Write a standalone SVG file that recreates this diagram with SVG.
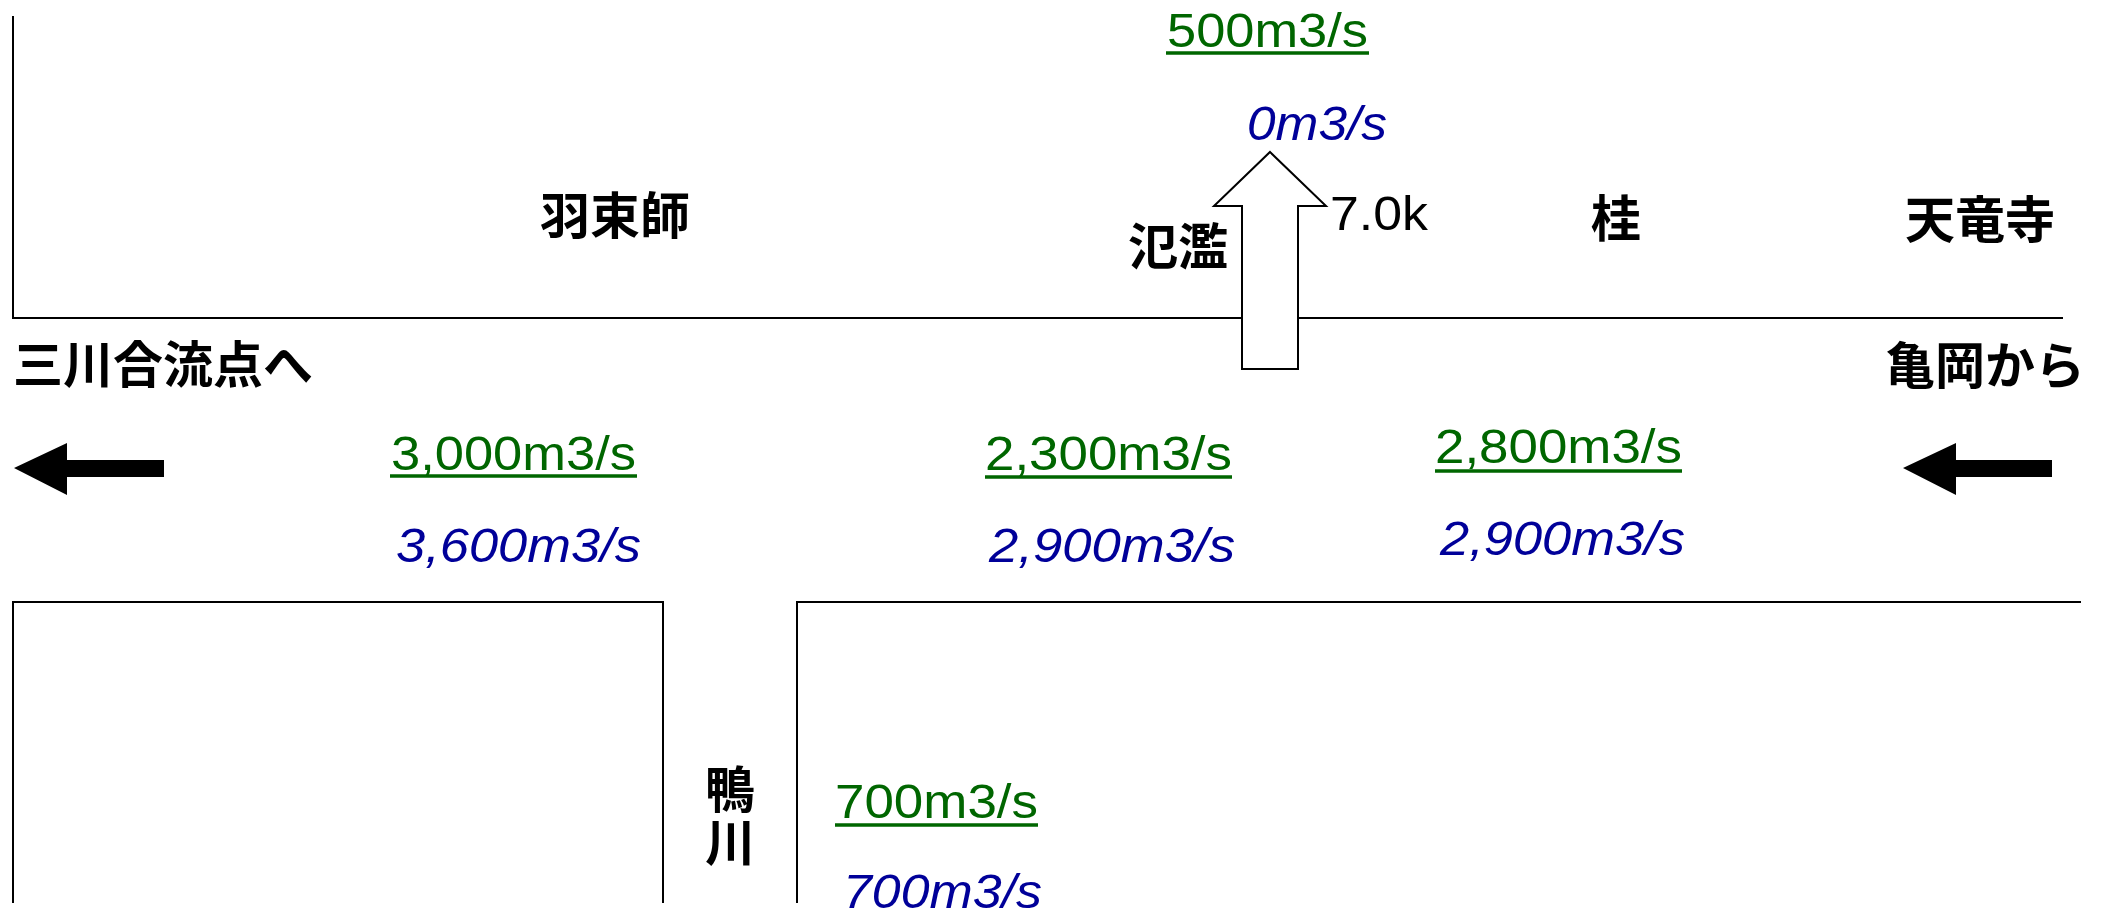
<svg xmlns="http://www.w3.org/2000/svg" width="2102" height="914" viewBox="0 0 2102 914">
<style>
.ln{fill:none;stroke:#000;stroke-width:2}
.jp{font-family:"Noto Sans CJK JP","Noto Sans CJK SC",sans-serif;font-weight:bold;fill:#000;font-size:50px}
.g{font-family:"Liberation Sans",Arial,sans-serif;font-size:49px;fill:#006600}
.ul{stroke:#006600;stroke-width:3.5}
.b{font-family:"Liberation Sans",Arial,sans-serif;font-size:49px;fill:#000099;font-style:italic}
.k{font-family:"Liberation Sans",Arial,sans-serif;font-size:49px;fill:#000}
</style>
<rect width="2102" height="914" fill="#fff"/>
<g id="banks">
<path class="ln" d="M13,16 V318 H2063"/>
<path class="ln" d="M13,903 V602 H663 V903"/>
<path class="ln" d="M797,903 V602 H2081"/>
</g>
<g id="connectors">
<path id="overflow-arrow" d="M1270,152 L1326,206 H1298 V369 H1242 V206 H1214 Z" fill="#fff" stroke="#000" stroke-width="2"/>
<path id="left-arrow" d="M14,468 L67,443 V460 H164 V477 H67 V495 Z" fill="#000"/>
<path id="right-arrow" d="M1903,468 L1956,443 V460 H2052 V477 H1956 V495 Z" fill="#000"/>
</g>
<g id="overflow">
<text class="g" x="1167" y="47" textLength="201" lengthAdjust="spacingAndGlyphs">500m3/s</text>
<line class="ul" x1="1166" y1="53" x2="1369" y2="53"/>
<text class="b" x="1247" y="140" textLength="140" lengthAdjust="spacingAndGlyphs">0m3/s</text>
<text class="k" x="1330" y="230" textLength="98" lengthAdjust="spacingAndGlyphs">7.0k</text>
<text class="jp" x="1128" y="265" font-size="51">氾濫</text>
</g>
<g id="places">
<text class="jp" x="540" y="234" font-size="51">羽束師</text>
<text class="jp" x="1591" y="237" font-size="48">桂</text>
<text class="jp" x="1905" y="238" font-size="51">天竜寺</text>
<text class="jp" x="13" y="383" font-size="52">三川合流点へ</text>
<text class="jp" x="1885" y="384" font-size="48">亀岡から</text>
</g>
<g id="kamo">
<text class="jp" font-size="48" x="730" y="764" writing-mode="vertical-rl" letter-spacing="3">鴨川</text>
<text class="g" x="835" y="818" textLength="203" lengthAdjust="spacingAndGlyphs">700m3/s</text>
<line class="ul" x1="835" y1="825" x2="1038" y2="825"/>
<text class="b" x="843" y="908" textLength="199" lengthAdjust="spacingAndGlyphs">700m3/s</text>
</g>
<g id="flows">
<text class="g" x="391" y="470" textLength="245" lengthAdjust="spacingAndGlyphs">3,000m3/s</text>
<line class="ul" x1="390" y1="476" x2="637" y2="476"/>
<text class="b" x="396" y="562" textLength="245" lengthAdjust="spacingAndGlyphs">3,600m3/s</text>
<text class="g" x="985" y="470" textLength="247" lengthAdjust="spacingAndGlyphs">2,300m3/s</text>
<line class="ul" x1="985" y1="477" x2="1232" y2="477"/>
<text class="b" x="989" y="562" textLength="246" lengthAdjust="spacingAndGlyphs">2,900m3/s</text>
<text class="g" x="1435" y="463" textLength="247" lengthAdjust="spacingAndGlyphs">2,800m3/s</text>
<line class="ul" x1="1435" y1="471" x2="1682" y2="471"/>
<text class="b" x="1440" y="555" textLength="245" lengthAdjust="spacingAndGlyphs">2,900m3/s</text>
</g>
</svg>
